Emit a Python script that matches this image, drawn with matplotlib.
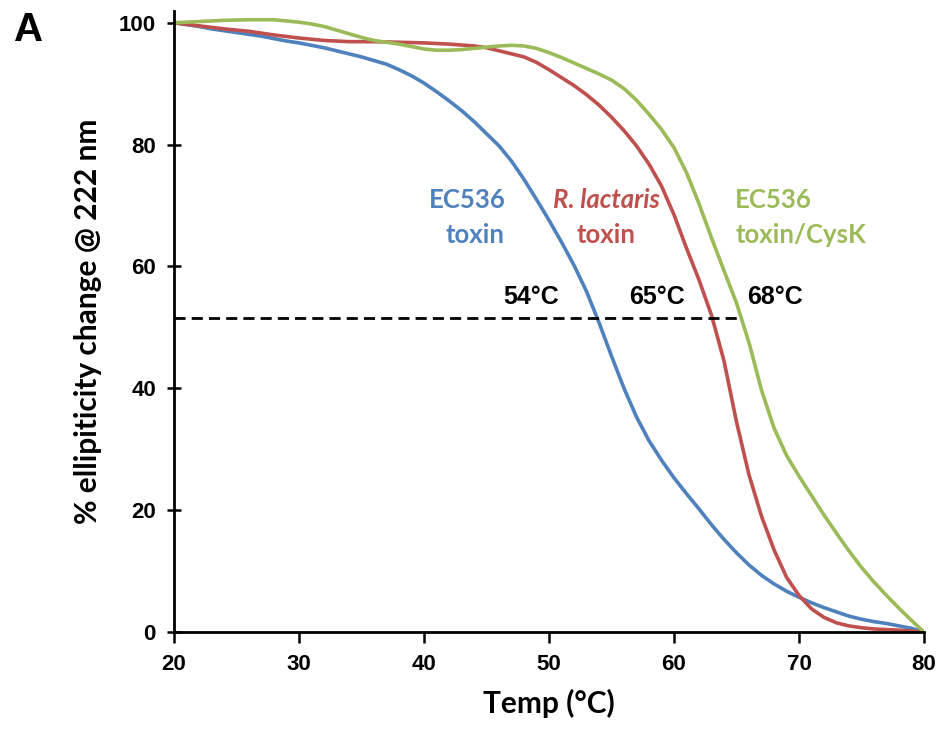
import matplotlib
matplotlib.use("Agg")
import matplotlib.pyplot as plt

# Data (temperature in degC, % ellipticity change)
temp_blue = [20, 21, 22, 23, 24, 25, 26, 27, 28, 29, 30, 31, 32, 33, 34, 35, 36, 37, 38, 39,
             40, 41, 42, 43, 44, 45, 46, 47, 48, 49, 50, 51, 52, 53, 54, 55, 56, 57, 58, 59,
             60, 61, 62, 63, 64, 65, 66, 67, 68, 69, 70, 71, 72, 73, 74, 75, 76, 77, 78, 79, 80]
ec536 = [100, 99.7, 99.4, 99.0, 98.7, 98.4, 98.1, 97.8, 97.4, 97.0, 96.7, 96.3, 95.9, 95.4, 94.9,
         94.4, 93.8, 93.2, 92.3, 91.3, 90.1, 88.7, 87.2, 85.6, 83.8, 81.8, 79.8, 77.3, 74.3, 71.0,
         67.6, 64.0, 60.2, 55.9, 50.8, 45.3, 40.0, 35.3, 31.4, 28.2, 25.3, 22.7, 20.2, 17.6, 15.2,
         13.0, 11.0, 9.3, 7.9, 6.7, 5.7, 4.8, 4.0, 3.3, 2.6, 2.1, 1.7, 1.4, 1.0, 0.6, 0]

temp_red = [20, 22, 24, 26, 28, 30, 32, 34, 36, 38, 40, 42, 44, 45, 46, 47, 48, 49, 50, 51, 52,
            53, 54, 55, 56, 57, 58, 59, 60, 61, 62, 63, 64, 65, 66, 67, 68, 69, 70, 71, 72, 73,
            74, 75, 76, 78, 80]
lactaris = [100, 99.5, 99.0, 98.6, 98.0, 97.5, 97.1, 96.9, 96.9, 96.8, 96.7, 96.5, 96.2, 95.9,
            95.4, 94.9, 94.4, 93.5, 92.3, 91.0, 89.7, 88.2, 86.5, 84.5, 82.3, 79.8, 76.8, 73.2,
            68.5, 63.0, 57.8, 52.0, 44.5, 34.5, 25.8, 19.0, 13.5, 9.0, 6.0, 3.8, 2.4, 1.5, 1.0,
            0.7, 0.5, 0.3, 0]

temp_green = [20, 22, 24, 26, 28, 30, 31, 32, 33, 34, 35, 36, 37, 38, 39, 40, 41, 42, 43, 44, 45,
              46, 47, 48, 49, 50, 51, 52, 53, 54, 55, 56, 57, 58, 59, 60, 61, 62, 63, 64, 65, 66,
              67, 68, 69, 70, 71, 72, 73, 74, 75, 76, 77, 78, 79, 80]
cysk = [100, 100.2, 100.4, 100.5, 100.5, 100.1, 99.8, 99.4, 98.8, 98.2, 97.6, 97.1, 96.8, 96.5,
        96.1, 95.7, 95.5, 95.5, 95.6, 95.8, 96.0, 96.2, 96.3, 96.2, 95.8, 95.1, 94.3, 93.4, 92.5,
        91.6, 90.6, 89.2, 87.3, 85.0, 82.5, 79.5, 75.4, 70.3, 64.7, 59.3, 54.0, 47.5, 39.7, 33.5,
        29.0, 25.6, 22.4, 19.2, 16.2, 13.3, 10.6, 8.2, 6.0, 3.9, 1.9, 0]

midpoint_level = 51.6
midpoint_end = 65.4
tm_labels = ["54°C", "65°C", "68°C"]
tm_label_x = [48.6, 58.6, 68.1]

blue = "#4F81BD"
red = "#C0504D"
green = "#9BBB59"

fig = plt.figure(figsize=(9.4, 7.3), dpi=100)
ax = fig.add_axes([174/940, (730-632)/730, (924-174)/940, (632-10.6)/730])

ax.plot(temp_blue, ec536, color=blue, lw=2.6, solid_capstyle="round", solid_joinstyle="round")
ax.plot(temp_red, lactaris, color=red, lw=2.6, solid_capstyle="round", solid_joinstyle="round")
ax.plot(temp_green, cysk, color=green, lw=2.6, solid_capstyle="round", solid_joinstyle="round")
ax.plot([20, midpoint_end], [midpoint_level, midpoint_level], color="black", lw=2, ls=(0, (4, 2.2)))

ax.set_xlim(20, 80)
ax.set_ylim(0, 102)
ax.set_xticks(range(20, 81, 10))
ax.set_yticks(range(0, 101, 20))
for s in ["top", "right"]:
    ax.spines[s].set_visible(False)
for s in ["left", "bottom"]:
    ax.spines[s].set_linewidth(2)
ax.tick_params(axis="y", direction="inout", length=10, width=1.8, pad=8)
ax.tick_params(axis="x", direction="out", length=8, width=1.8, pad=8)
for lab in ax.get_xticklabels() + ax.get_yticklabels():
    lab.set_fontfamily("Liberation Sans")
    lab.set_fontweight("bold")
    lab.set_fontsize(16)

lblfont = dict(family="Lato", fontweight="bold", fontsize=21.5)
ax.set_xlabel("Temp (°C)", labelpad=10, **lblfont)
ax.set_ylabel("% ellipiticity change @ 222 nm", labelpad=12, **lblfont)

tf = dict(family="Lato", fontweight="bold", fontsize=18.5)
ax.text(43.5, 70.9, "EC536", color=blue, ha="center", va="center", **tf)
ax.text(44.1, 65.2, "toxin", color=blue, ha="center", va="center", **tf)
ax.text(54.6, 70.9, "R. lactaris", color=red, ha="center", va="center", style="italic", **tf)
ax.text(54.6, 65.2, "toxin", color=red, ha="center", va="center", **tf)
ax.text(64.9, 70.9, "EC536", color=green, ha="left", va="center", **tf)
ax.text(64.9, 65.2, "toxin/CysK", color=green, ha="left", va="center", **tf)

for x, t in zip(tm_label_x, tm_labels):
    ax.text(x, 55.0, t, ha="center", va="center", family="Liberation Sans", fontweight="bold", fontsize=18)

fig.text(29/940, 1 - 30/730, "A", ha="center", va="center", family="Liberation Sans", fontweight="bold", fontsize=29)

fig.savefig("out.png", dpi=100)
